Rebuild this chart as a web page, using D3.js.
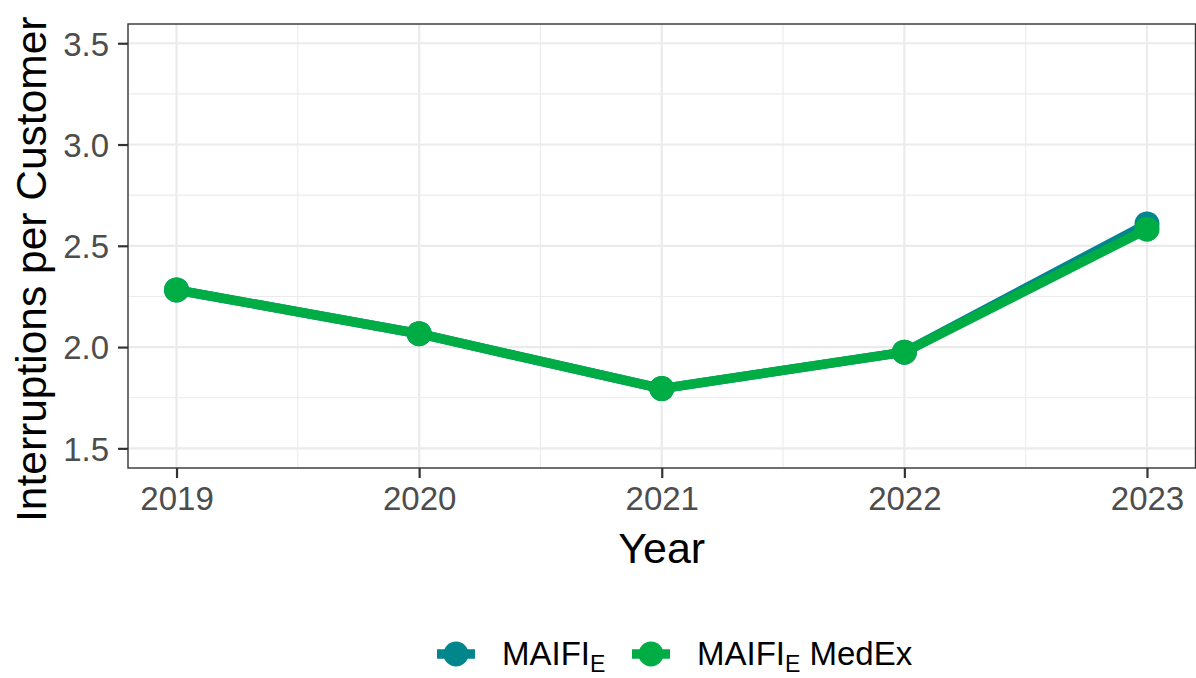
<!DOCTYPE html>
<html>
<head>
<meta charset="utf-8">
<script src="https://cdn.jsdelivr.net/npm/d3@7"></script>
<style>
body { margin: 0; background: #fff; }
text { font-family: Arial, "Liberation Sans", sans-serif; }
</style>
</head>
<body>
<div id="chart"></div>
<script>
var years = [2019, 2020, 2021, 2022, 2023];
var maifi = [2.282, 2.066, 1.795, 1.975, 2.608];
var maifiMedex = [2.282, 2.066, 1.795, 1.975, 2.582];
var yTicks = [1.5, 2.0, 2.5, 3.0, 3.5];
var seriesNames = ['MAIFI', 'MAIFI MedEx'];
var seriesColors = ['#00868B', '#00AD45'];

var width = 1196;
var height = 678;
var panel = {left: 128, top: 24, right: 1195.5, bottom: 468};

var svg = d3.select('#chart')
	.append('svg')
	.attr('width', width)
	.attr('height', height);

var x = d3.scaleLinear()
	.domain([2018.8, 2023.2])
	.range([panel.left, panel.right]);

var y = d3.scaleLinear()
	.domain([1.403, 3.595])
	.range([panel.bottom, panel.top]);

// grid, minor first then major
var minorX = d3.range(2019.5, 2023, 1);
var minorY = d3.range(1.75, 3.6, 0.5);

svg.append('g').selectAll('line')
	.data(minorX)
	.enter().append('line')
	.attr('x1', x).attr('x2', x)
	.attr('y1', panel.top).attr('y2', panel.bottom)
	.attr('stroke', '#EBEBEB').attr('stroke-width', 1.1);

svg.append('g').selectAll('line')
	.data(minorY)
	.enter().append('line')
	.attr('y1', y).attr('y2', y)
	.attr('x1', panel.left).attr('x2', panel.right)
	.attr('stroke', '#EBEBEB').attr('stroke-width', 1.1);

svg.append('g').selectAll('line')
	.data(years)
	.enter().append('line')
	.attr('x1', x).attr('x2', x)
	.attr('y1', panel.top).attr('y2', panel.bottom)
	.attr('stroke', '#EBEBEB').attr('stroke-width', 2.2);

svg.append('g').selectAll('line')
	.data(yTicks)
	.enter().append('line')
	.attr('y1', y).attr('y2', y)
	.attr('x1', panel.left).attr('x2', panel.right)
	.attr('stroke', '#EBEBEB').attr('stroke-width', 2.2);

// series
var series = [maifi, maifiMedex].map(function(vals, i){
	return {
		name: seriesNames[i],
		color: seriesColors[i],
		values: vals.map(function(v, j){ return {year: years[j], value: v}; })
	};
});

var line = d3.line()
	.x(function(d){ return x(d.year); })
	.y(function(d){ return y(d.value); });

svg.append('g').selectAll('path')
	.data(series)
	.enter().append('path')
	.attr('d', function(d){ return line(d.values); })
	.attr('fill', 'none')
	.attr('stroke', function(d){ return d.color; })
	.attr('stroke-width', 9.5)
	.attr('stroke-linejoin', 'round');

series.forEach(function(s){
	svg.append('g').selectAll('circle')
		.data(s.values)
		.enter().append('circle')
		.attr('cx', function(d){ return x(d.year); })
		.attr('cy', function(d){ return y(d.value); })
		.attr('r', 12.5)
		.attr('fill', s.color);
});

// panel border
svg.append('rect')
	.attr('x', panel.left).attr('y', panel.top)
	.attr('width', panel.right - panel.left)
	.attr('height', panel.bottom - panel.top)
	.attr('fill', 'none')
	.attr('stroke', '#333333')
	.attr('stroke-width', 1.4);

// axes
var xAxis = d3.axisBottom(x)
	.tickValues(years)
	.tickFormat(d3.format('d'))
	.tickSize(10)
	.tickPadding(9);

var yAxis = d3.axisLeft(y)
	.tickValues(yTicks)
	.tickFormat(d3.format('.1f'))
	.tickSize(10)
	.tickPadding(9);

var gx = svg.append('g')
	.attr('transform', 'translate(0,' + panel.bottom + ')')
	.call(xAxis);

var gy = svg.append('g')
	.attr('transform', 'translate(' + panel.left + ',0)')
	.call(yAxis);

[gx, gy].forEach(function(g){
	g.select('.domain').remove();
	g.selectAll('.tick line').attr('stroke', '#333333').attr('stroke-width', 2.2);
	g.selectAll('.tick text')
		.attr('fill', '#4D4D4D')
		.style('font-size', '33px');
});
gy.selectAll('.tick text').attr('dy', '0.36em');

// axis titles
svg.append('text')
	.attr('x', (panel.left + panel.right) / 2)
	.attr('y', 563)
	.attr('text-anchor', 'middle')
	.style('font-size', '43px')
	.attr('fill', '#000')
	.text('Year');

svg.append('text')
	.attr('transform', 'translate(46,522) rotate(-90)')
	.attr('text-anchor', 'start')
	.style('font-size', '42.5px')
	.attr('fill', '#000')
	.text('Interruptions per Customer');

// legend
var legendX = [437, 632];
var legendY = 654;

var legend = svg.selectAll('.legend')
	.data(series)
	.enter()
	.append('g')
	.attr('class', 'legend')
	.attr('transform', function(d, i){
		return 'translate(' + legendX[i] + ',' + legendY + ')';
	});

legend.append('line')
	.attr('x1', 0).attr('x2', 38)
	.attr('y1', 0).attr('y2', 0)
	.attr('stroke', function(d){ return d.color; })
	.attr('stroke-width', 9.5);

legend.append('circle')
	.attr('cx', 19).attr('cy', 0)
	.attr('r', 12.5)
	.attr('fill', function(d){ return d.color; });

var ltext = legend.append('text')
	.attr('x', 65)
	.attr('y', 11)
	.style('font-size', '33px')
	.attr('fill', '#000');

ltext.append('tspan').text('MAIFI');
ltext.append('tspan')
	.attr('dy', 7)
	.style('font-size', '23px')
	.text('E');
ltext.filter(function(d, i){ return i == 1; })
	.append('tspan')
	.attr('dy', -7)
	.text(' MedEx');
</script>
</body>
</html>
